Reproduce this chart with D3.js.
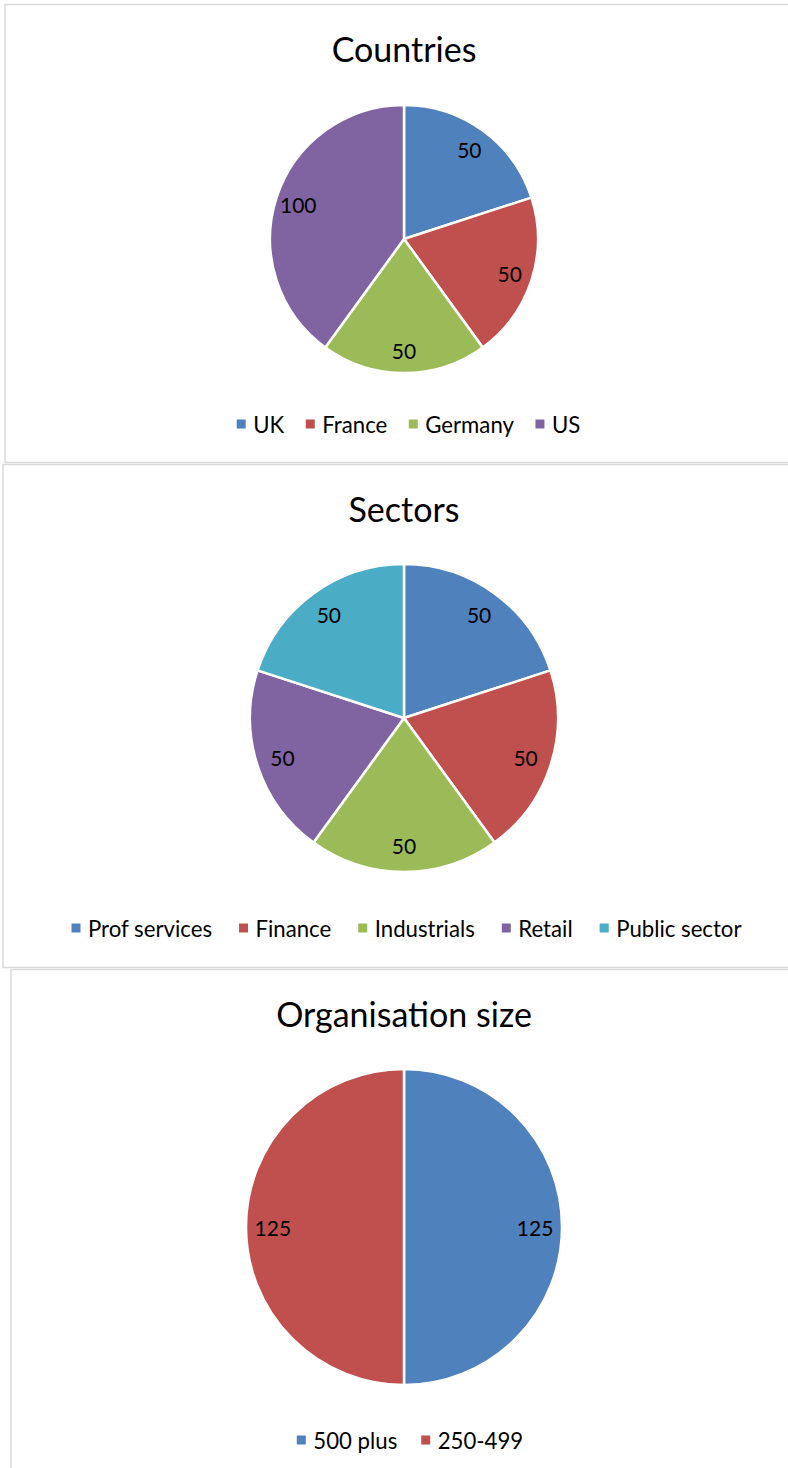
<!DOCTYPE html>
<html>
<head>
<meta charset="utf-8">
<script src="https://cdn.jsdelivr.net/npm/d3@7"></script>
<style>
  html, body { margin: 0; padding: 0; background: #fff; }
  svg { display: block; }
  text { font-family: Lato, "Open Sans", sans-serif; fill: #000; }
</style>
</head>
<body>
<svg id="chart" width="788" height="1468"></svg>
<script>
// ---- Data ----
const countryNames = ["UK", "France", "Germany", "US"];
const countryValues = [50, 50, 50, 100];

const sectorNames = ["Prof services", "Finance", "Industrials", "Retail", "Public sector"];
const sectorValues = [50, 50, 50, 50, 50];

const sizeNames = ["500 plus", "250-499"];
const sizeValues = [125, 125];

const palette = ["#4F81BD", "#C0504D", "#9BBB59", "#8064A2", "#4BACC6"];

// ---- Layout ----
const svg = d3.select("#chart");

const panels = [
  { title: "Countries", names: countryNames, values: countryValues,
    frame: { x: 5, y: 4.5, w: 800, h: 458 },
    titleY: 48, cx: 404, cy: 239, r: 134, legendY: 424, legendCx: 408.5, gap: 21.5 },
  { title: "Sectors", names: sectorNames, values: sectorValues,
    frame: { x: 3, y: 464.5, w: 800, h: 503 },
    titleY: 508, cx: 404, cy: 718, r: 154, legendY: 928, legendCx: 406.5, gap: 27 },
  { title: "Organisation size", names: sizeNames, values: sizeValues,
    frame: { x: 11, y: 969.5, w: 800, h: 520 },
    titleY: 1013, cx: 404, cy: 1227, r: 158, legendY: 1440, legendCx: 410, gap: 24 }
];

panels.forEach(p => {
  const g = svg.append("g");
  g.append("rect")
    .attr("x", p.frame.x).attr("y", p.frame.y)
    .attr("width", p.frame.w).attr("height", p.frame.h)
    .attr("fill", "none").attr("stroke", "#d9d9d9").attr("stroke-width", 1.5);

  g.append("text")
    .attr("x", p.cx).attr("y", p.titleY)
    .attr("text-anchor", "middle").attr("dominant-baseline", "central")
    .style("font-size", "34px")
    .text(p.title);

  const color = d3.scaleOrdinal().domain(p.names).range(palette);
  const pie = d3.pie().sort(null).value(d => d.value);
  const data = pie(p.names.map((n, i) => ({ name: n, value: p.values[i] })));
  const arc = d3.arc().innerRadius(0).outerRadius(p.r);
  const labelArc = d3.arc().innerRadius(p.r * 0.83).outerRadius(p.r * 0.83);

  const pg = g.append("g").attr("transform", `translate(${p.cx},${p.cy})`);
  pg.selectAll("path").data(data).join("path")
    .attr("d", arc)
    .attr("fill", d => color(d.data.name))
    .attr("stroke", "#fff").attr("stroke-width", 2.5)
    .attr("stroke-linejoin", "round");

  pg.selectAll("text").data(data).join("text")
    .attr("transform", d => `translate(${labelArc.centroid(d)})`)
    .attr("text-anchor", "middle").attr("dominant-baseline", "central")
    .style("font-size", "21px")
    .text(d => d.data.value);

  // legend
  const lg = g.append("g");
  const items = lg.selectAll("g").data(p.names).join("g");
  items.append("rect").attr("width", 9).attr("height", 9)
    .attr("y", -4.5).attr("fill", d => color(d));
  const texts = items.append("text").attr("x", 16.5)
    .attr("dominant-baseline", "central")
    .style("font-size", "22.2px").text(d => d);
  let xpos = 0;
  const widths = [];
  texts.each(function () { widths.push(this.getComputedTextLength()); });
  items.attr("transform", (d, i) => {
    const t = `translate(${xpos},0)`;
    xpos += 16.5 + widths[i] + p.gap;
    return t;
  });
  const total = xpos - p.gap;
  lg.attr("transform", `translate(${p.legendCx - total / 2},${p.legendY})`);
});
</script>
</body>
</html>
